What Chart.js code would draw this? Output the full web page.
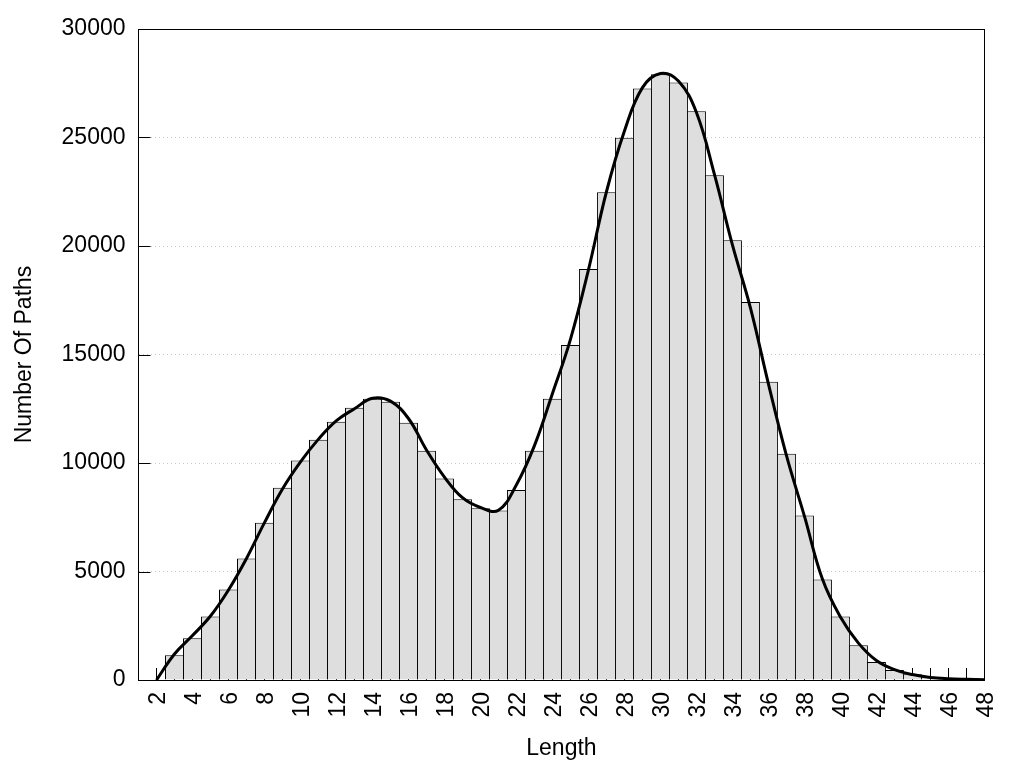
<!DOCTYPE html>
<html>
<head>
<meta charset="utf-8">
<script src="https://cdn.jsdelivr.net/npm/chart.js@4"></script>
<style>
  html, body { margin: 0; padding: 0; background: #fff; }
  #wrap { width: 1024px; height: 768px; }
</style>
</head>
<body>
<div id="wrap"><canvas id="paths"></canvas></div>
<script>
// histogram: path length -> number of paths
const lengths = [3, 4, 5, 6, 7, 8, 9, 10, 11, 12, 13, 14, 15, 16, 17, 18, 19, 20, 21, 22, 23, 24, 25,
  26, 27, 28, 29, 30, 31, 32, 33, 34, 35, 36, 37, 38, 39, 40, 41, 42, 43, 44, 45, 46, 47];
const pathCounts = [1140, 1920, 2930, 4170, 5600, 7250, 8860, 10110, 11070, 11900, 12550, 12960, 12820,
  11850, 10570, 9280, 8330, 7920, 7810, 8760, 10570, 12960, 15440, 18940, 22480, 24990, 27260, 27910,
  27540, 26210, 23260, 20270, 17420, 13740, 10430, 7580, 4630, 2930, 1600, 830, 460, 270, 130, 70, 40];

// smoothed curve
const curveX = [2, 3, 4, 5, 6, 7, 8, 9, 10, 11, 12, 13, 14, 15, 16, 17, 18, 19, 20, 21, 22, 23, 24, 25,
  26, 27, 28, 29, 30, 31, 32, 33, 34, 35, 36, 37, 38, 39, 40, 41, 42, 43, 44, 45, 46, 47, 48];
const curveY = [0, 1200, 2050, 2950, 4150, 5600, 7250, 8800, 10050, 11100, 11950, 12500, 12980, 12850,
  12050, 10600, 9350, 8400, 7950, 7820, 9000, 10800, 13200, 15700, 18900, 22500, 25300, 27300, 27950,
  27600, 26150, 23300, 20050, 17150, 13650, 10350, 7550, 4650, 2900, 1700, 900, 480, 250, 120, 60, 30, 10];

const xTickLabels = [2, 4, 6, 8, 10, 12, 14, 16, 18, 20, 22, 24, 26, 28, 30, 32, 34, 36, 38, 40, 42, 44, 46, 48];
const yTickLabels = [0, 5000, 10000, 15000, 20000, 25000, 30000];

const font = { family: 'Liberation Sans, Arial, sans-serif', size: 23 };

// short tick marks pointing into the plot, plus the box around it
const frameTicks = {
  id: 'frameTicks',
  beforeDatasetsDraw(chart) {
    const { ctx, chartArea: a, scales: { x, y } } = chart;
    ctx.save();
    ctx.strokeStyle = '#000';
    ctx.lineWidth = 1;
    ctx.beginPath();
    for (let v = Math.ceil(x.min); v <= x.max; v++) {
      const px = Math.floor(x.getPixelForValue(v)) + 0.5;
      ctx.moveTo(px, a.bottom);
      ctx.lineTo(px, a.bottom - 12);
    }
    yTickLabels.forEach(v => {
      const py = Math.round(y.getPixelForValue(v)) + 0.5;
      ctx.moveTo(a.left, py);
      ctx.lineTo(a.left + 12, py);
    });
    ctx.stroke();
    ctx.restore();
  },
  afterDatasetsDraw(chart) {
    const { ctx, chartArea: a } = chart;
    ctx.save();
    ctx.strokeStyle = '#000';
    ctx.lineWidth = 1;
    ctx.strokeRect(Math.floor(a.left) + 0.5, Math.round(a.top) + 0.5,
      Math.floor(a.right) - Math.floor(a.left), Math.round(a.bottom - a.top));
    ctx.restore();
  }
};

new Chart(document.getElementById('paths'), {
  data: {
    datasets: [
      {
        type: 'line',
        data: curveX.map((v, i) => ({ x: v, y: curveY[i] })),
        borderColor: '#000',
        borderWidth: 3,
        pointRadius: 0,
        tension: 0.4,
        fill: false,
        order: 0
      },
      {
        type: 'bar',
        data: lengths.map((v, i) => ({ x: v, y: pathCounts[i] })),
        backgroundColor: '#dedede',
        borderColor: '#000',
        borderWidth: 1,
        borderSkipped: 'start',
        barPercentage: 19 / 18,
        categoryPercentage: 1,
        order: 1
      }
    ]
  },
  options: {
    responsive: true,
    maintainAspectRatio: false,
    animation: false,
    layout: { padding: { top: 29, right: 39.5, bottom: 0, left: 0 } },
    plugins: {
      legend: { display: false },
      tooltip: { enabled: false }
    },
    scales: {
      x: {
        type: 'linear',
        min: 1,
        max: 48,
        offset: false,
        grid: { display: false, drawTicks: false },
        border: { display: false },
        afterBuildTicks: s => { s.ticks = xTickLabels.map(v => ({ value: v })); },
        ticks: {
          autoSkip: false,
          minRotation: 90,
          maxRotation: 90,
          padding: 12,
          labelOffset: 2,
          color: '#000',
          font: font
        },
        title: {
          display: true,
          text: 'Length',
          color: '#000',
          font: font,
          padding: { top: 0, bottom: 6 }
        },
        afterFit: s => { s.height = 88; }
      },
      y: {
        min: 0,
        max: 30000,
        afterBuildTicks: s => { s.ticks = yTickLabels.map(v => ({ value: v })); },
        grid: { color: '#c8c8c8', lineWidth: 1, drawTicks: false },
        border: { display: false, dash: [1, 3] },
        ticks: {
          padding: 13,
          color: '#000',
          font: font,
          callback: v => String(v)
        },
        title: {
          display: true,
          text: 'Number Of Paths',
          color: '#000',
          font: font,
          padding: { top: 11, bottom: 0 }
        },
        afterFit: s => { s.width = 138.5; }
      }
    }
  },
  plugins: [frameTicks]
});
</script>
</body>
</html>
